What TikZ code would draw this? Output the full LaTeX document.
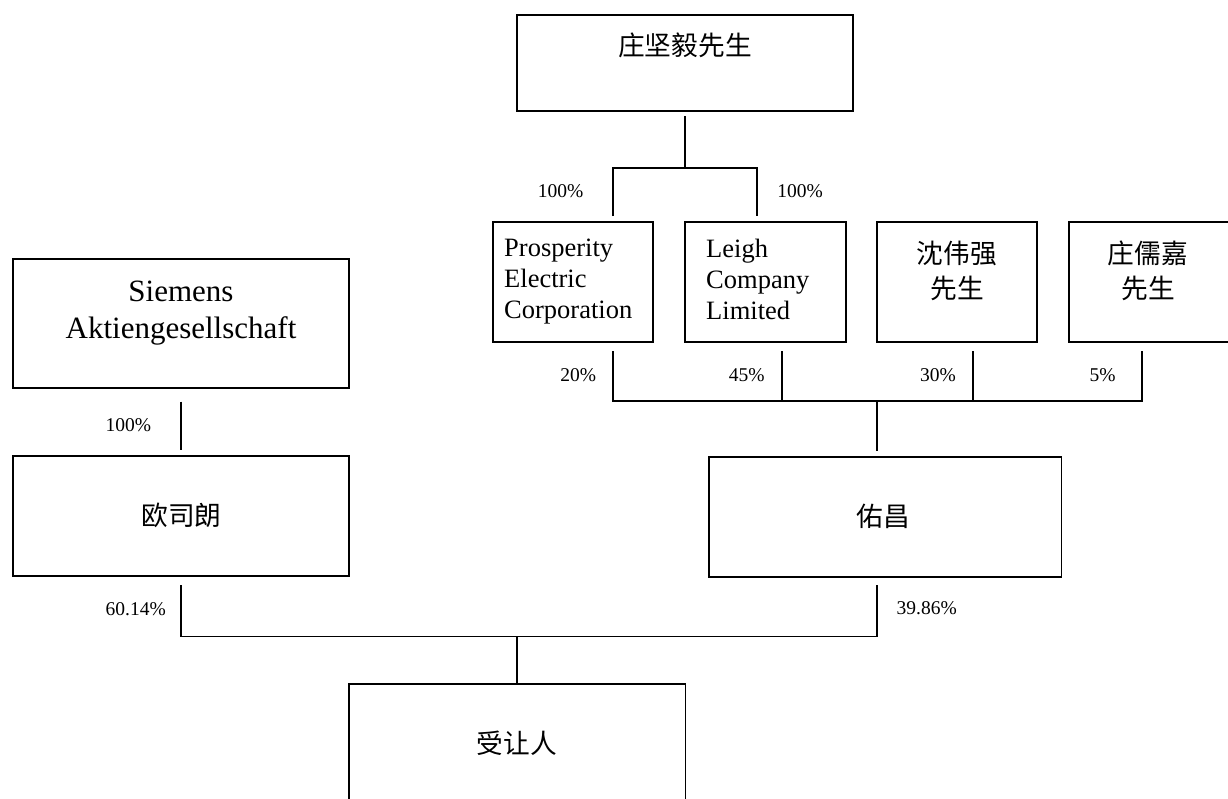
\documentclass[tikz,border=0pt]{standalone}
\usepackage{fontspec}
\setmainfont{Liberation Serif}
\newfontfamily\cjk{Noto Sans CJK SC}
\usetikzlibrary{calc}
\tikzset{
  box/.style={draw, line width=1.8pt, inner sep=0pt, outer sep=0pt, anchor=north west},
  ln/.style={line width=1.8pt},
  pct/.style={inner sep=0pt, font=\fontsize{19.5}{23}\selectfont},
  cjkt/.style={inner sep=0pt, font=\cjk\fontsize{26.7}{35}\selectfont, align=center},
  entt/.style={inner sep=0pt, font=\fontsize{26.5}{31}\selectfont, align=left, anchor=west},
  bigt/.style={inner sep=0pt, font=\fontsize{31}{37}\selectfont, align=center},
}
\begin{document}
\begin{tikzpicture}[x=1pt,y=-1pt]
\useasboundingbox (0,0) rectangle (1228,798);
\clip (0,0) rectangle (1228,798);
\fill[white] (0,0) rectangle (1228,798);

% boxes
\node[box, minimum width=336.3pt, minimum height=96.3pt] (zhuang) at (516.7,14.7) {};
\node[box, minimum width=160pt, minimum height=120pt] (pec) at (492.7,222) {};
\node[box, minimum width=161pt, minimum height=120pt] (leigh) at (684.7,222) {};
\node[box, minimum width=160.6pt, minimum height=120pt] (shen) at (876.7,222) {};
\node[box, minimum width=163pt, minimum height=120pt] (zrj) at (1068.7,222) {};
\node[box, minimum width=336.6pt, minimum height=129pt] (siemens) at (12.7,259) {};
\node[box, minimum width=336.6pt, minimum height=120pt] (osram) at (12.7,456) {};
\node[box, minimum width=352.6pt, minimum height=120pt] (youchang) at (708.8,456.8) {};
\node[box, minimum width=336.5pt, minimum height=140pt] (grantee) at (349,684) {};

% texts
\node[cjkt] (zhuang-t) at (685,45) {庄坚毅先生};
\node[entt] (pec-t) at (504,282) {Prosperity\\Electric\\Corporation};
\node[entt] (leigh-t) at (706,279) {Leigh\\Company\\Limited};
\node[cjkt] (shen-t) at (957,270.5) {沈伟强\\先生};
\node[cjkt] (zrj-t) at (1148,270.5) {庄儒嘉\\先生};
\node[bigt] (siemens-t) at (181,313) {Siemens\\Aktiengesellschaft};
\node[cjkt] (osram-t) at (181.5,515.5) {欧司朗};
\node[cjkt] (youchang-t) at (883.3,516.7) {佑昌};
\node[cjkt] (grantee-t) at (517,743) {受让人};

% percentages
\node[pct] (p1) at (560.5,191) {100\%};
\node[pct] (p2) at (800,191) {100\%};
\node[pct] (p3) at (578.3,375) {20\%};
\node[pct] (p4) at (746.7,375) {45\%};
\node[pct] (p5) at (938,375) {30\%};
\node[pct] (p6) at (1102.7,375) {5\%};
\node[pct] (p7) at (128.3,425) {100\%};
\node[pct] (p8) at (135.7,609) {60.14\%};
\node[pct] (p9) at (926.7,608.3) {39.86\%};

% joints
\coordinate (t1) at (613,168);
\coordinate (t2) at (757,168);
\coordinate (b1) at (613,401);
\coordinate (b2) at (781.7,401);
\coordinate (b3) at (973.3,401);
\coordinate (b4) at (1141.7,401);
\coordinate (b0) at (876.7,401);
\coordinate (c1) at (181,636.5);
\coordinate (c2) at (876.7,636.5);

% connectors
\draw[ln] ($(zhuang.south)+(0,5)$) -- (zhuang.south |- t1);
\draw[ln] ($(t1 |- pec.north)+(0,-6)$) -- (t1) -- (t2) -- ($(t2 |- leigh.north)+(0,-6)$);

\draw[ln] ($(b1 |- pec.south)+(0,9)$) -- (b1) -- (b4) -- ($(b4 |- zrj.south)+(0,9)$);
\draw[ln] ($(b2 |- leigh.south)+(0,9)$) -- (b2);
\draw[ln] ($(b3 |- shen.south)+(0,9)$) -- (b3);
\draw[ln] (b0) -- ($(b0 |- youchang.north)+(0,-6)$);

\draw[ln] ($(siemens.south)+(0,13.5)$) -- ($(osram.north)+(0,-6)$);

\draw[ln] ($(c1 |- osram.south)+(0,9)$) -- (c1) -- (c2) -- ($(c2 |- youchang.south)+(0,8.5)$);
\draw[ln] (grantee.north |- c1) -- (grantee.north);
\end{tikzpicture}
\end{document}
